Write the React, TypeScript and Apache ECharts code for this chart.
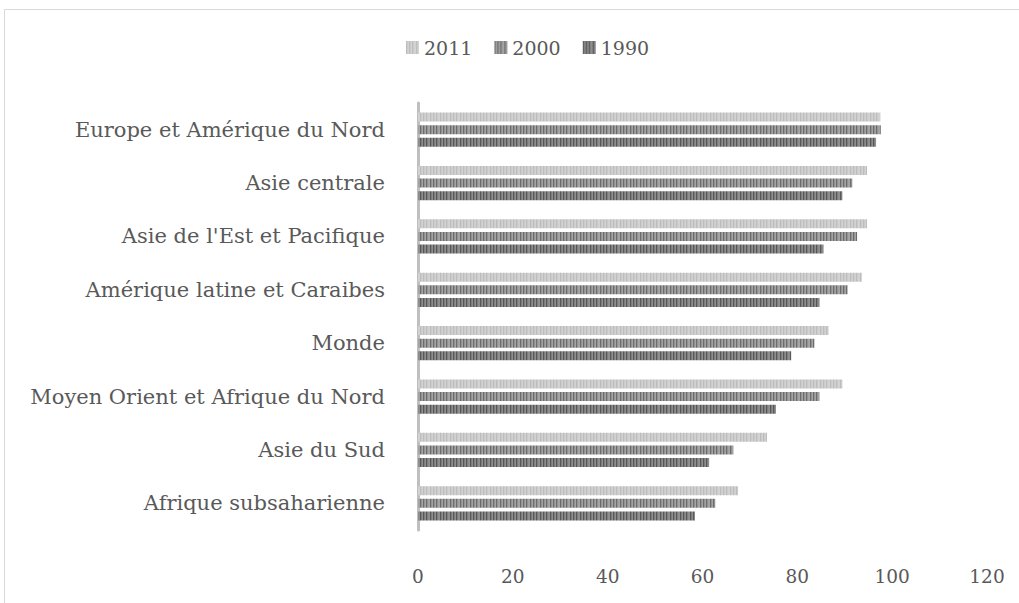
import React, { useEffect, useRef } from "react";
import * as echarts from "echarts";

const categories = [
  "Europe et Amérique du Nord",
  "Asie centrale",
  "Asie de l'Est et Pacifique",
  "Amérique latine et Caraibes",
  "Monde",
  "Moyen Orient et Afrique du Nord",
  "Asie du Sud",
  "Afrique subsaharienne",
];
const seriesNames = ["2011", "2000", "1990"];
const values2011 = [97.5, 94.7, 94.7, 93.6, 86.6, 89.5, 73.6, 67.5];
const values2000 = [97.6, 91.6, 92.6, 90.6, 83.6, 84.7, 66.5, 62.7];
const values1990 = [96.6, 89.5, 85.5, 84.7, 78.7, 75.5, 61.4, 58.4];
const xTicks = { min: 0, max: 120, interval: 20 };

function makePattern(base: string, stripe: string) {
  const c = document.createElement("canvas");
  c.width = 10;
  c.height = 10;
  const ctx = c.getContext("2d")!;
  ctx.fillStyle = base;
  ctx.fillRect(0, 0, 10, 10);
  ctx.fillStyle = stripe;
  [0, 3, 6].forEach((x) => ctx.fillRect(x, 0, 1.3, 10));
  return { image: c, repeat: "repeat" as const };
}

export default function App() {
  const ref = useRef<HTMLDivElement>(null);
  useEffect(() => {
    if (!ref.current) return;
    const chart = echarts.init(ref.current, undefined, { renderer: "svg" });
    const fills = [
      makePattern("#d2d2d2", "#bdbdbd"),
      makePattern("#a4a4a4", "#6c6c6c"),
      makePattern("#8e8e8e", "#575757"),
    ];
    const data = [values2011, values2000, values1990];
    const font = "DejaVu Serif";
    chart.setOption({
      animation: false,
      backgroundColor: "#ffffff",
      textStyle: { fontFamily: font },
      graphic: [
        {
          type: "rect",
          shape: { x: 4.5, y: 9.5, width: 1100, height: 700 },
          style: { fill: "none", stroke: "#d9d9d9", lineWidth: 1 },
          silent: true,
        },
      ],
      legend: {
        top: 33,
        left: 401,
        itemWidth: 13,
        itemHeight: 13,
        itemGap: 22,
        textStyle: { color: "#595959", fontSize: 19, fontFamily: font },
        data: seriesNames.map((n, i) => ({ name: n, icon: "rect", itemStyle: { color: fills[i] as any } })),
      },
      grid: { left: 418, right: 32, top: 103, bottom: 73, containLabel: false },
      xAxis: {
        type: "value",
        min: xTicks.min,
        max: xTicks.max,
        interval: xTicks.interval,
        axisLine: { show: false },
        axisTick: { show: false },
        splitLine: { show: false },
        axisLabel: { color: "#595959", fontSize: 18.5, fontFamily: font, margin: 37 },
      },
      yAxis: {
        type: "category",
        inverse: true,
        data: categories,
        axisLine: { show: true, lineStyle: { color: "#bfbfbf", width: 3 } },
        axisTick: { show: false },
        axisLabel: { color: "#595959", fontSize: 21, fontFamily: font, margin: 33 },
      },
      series: seriesNames.map((n, i) => ({
        name: n,
        type: "bar",
        data: data[i],
        barWidth: 9,
        barGap: "40%",
        itemStyle: { color: fills[i] as any },
      })),
    });
    return () => chart.dispose();
  }, []);
  return (
    <div
      ref={ref}
      style={{ position: "fixed", left: 0, top: 0, width: 1019, height: 603 }}
    />
  );
}
